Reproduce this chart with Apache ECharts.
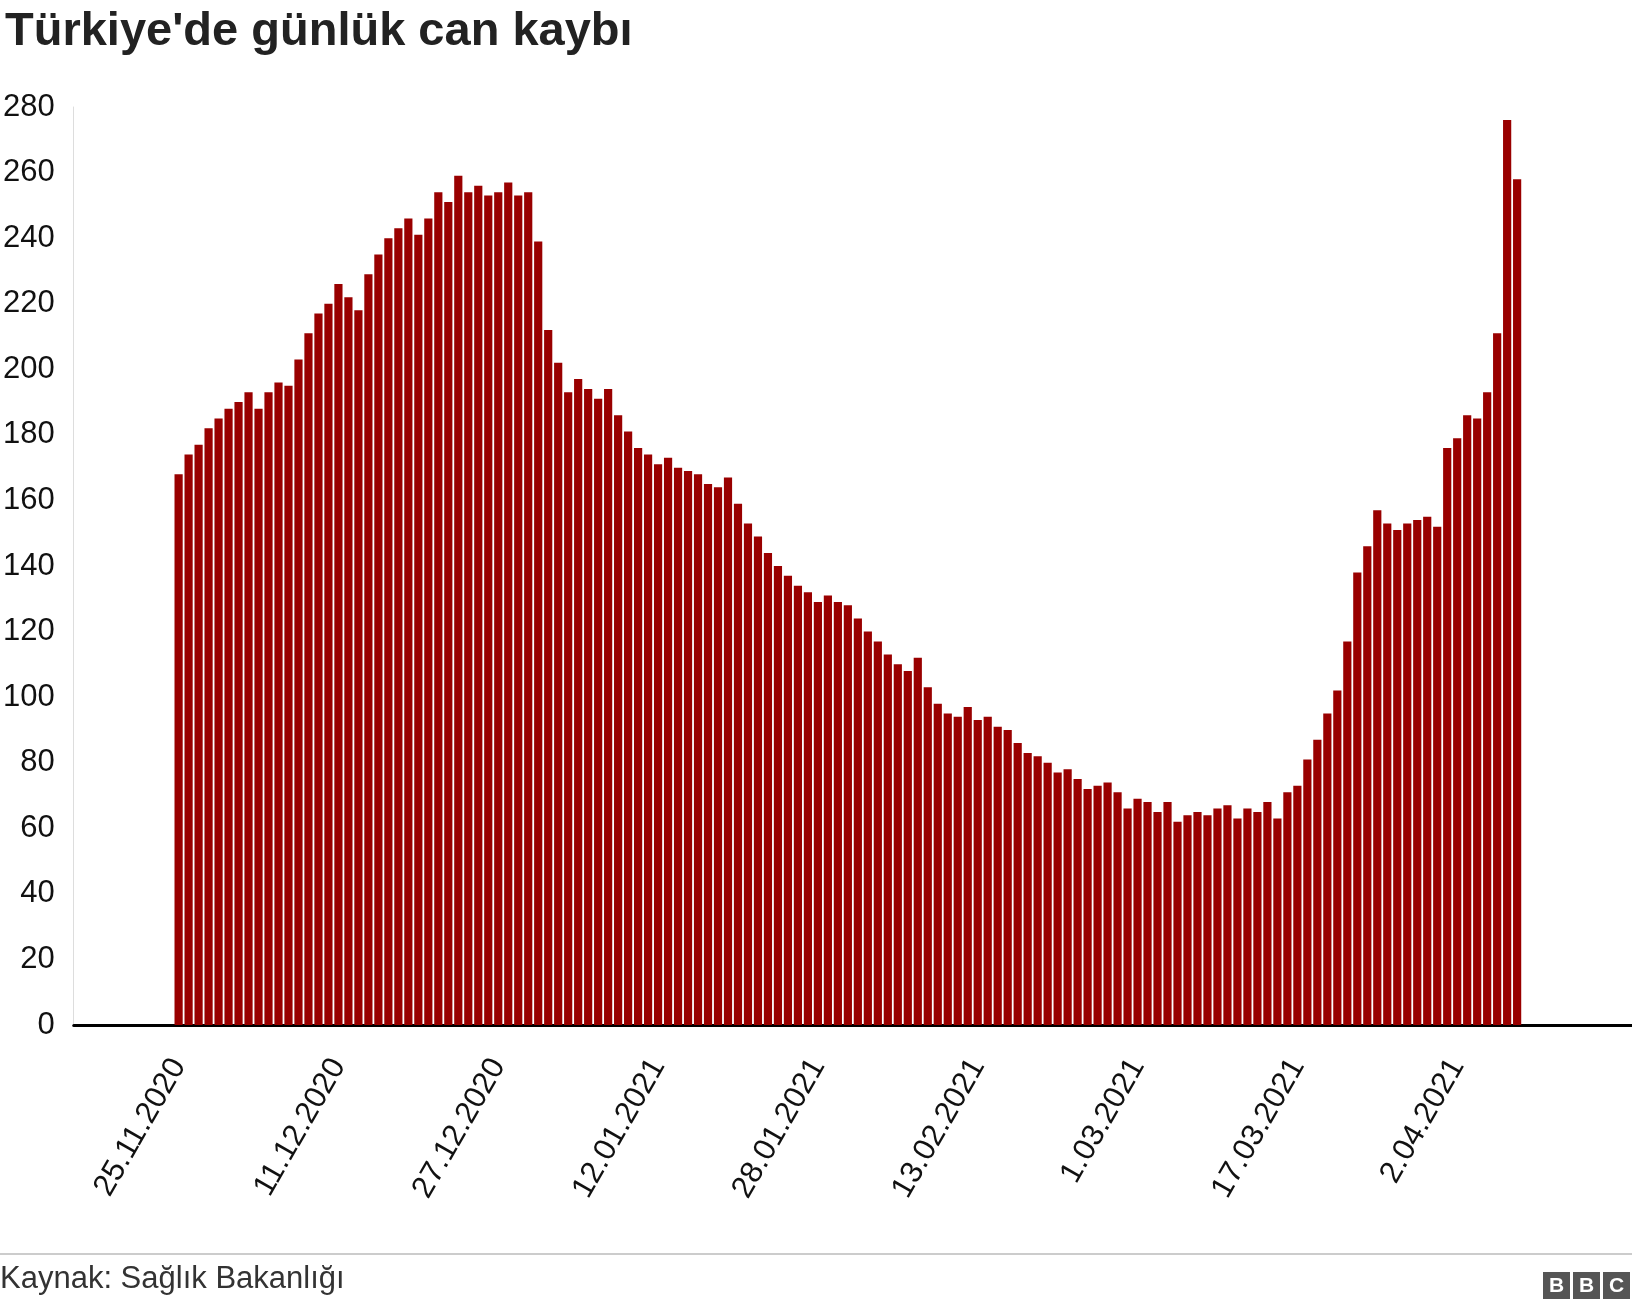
<!DOCTYPE html><html><head><meta charset="utf-8"><script src="https://cdn.jsdelivr.net/npm/echarts@6/dist/echarts.min.js"></script>
<style>body{margin:0;background:#fff}#c{width:1632px;height:1308px}</style></head><body><div id="c"></div><script>
const startDate = [2020, 10, 25];
const values = [168,174,177,182,185,188,190,193,188,193,
196,195,203,211,217,220,226,222,218,229,
235,240,243,246,241,246,254,251,259,254,
256,253,254,257,253,254,239,212,202,193,
197,194,191,194,186,181,176,174,171,173,
170,169,168,165,164,167,159,153,149,144,
140,137,134,132,129,131,129,128,124,120,
117,113,110,108,112,103,98,95,94,97,
93,94,91,90,86,83,82,80,77,78,
75,72,73,74,71,66,69,68,65,68,
62,64,65,64,66,67,63,66,65,68,
63,71,73,81,87,95,102,117,138,146,
157,153,151,153,154,155,152,176,179,186,
185,193,211,276,258];
const padLeft = 10, padRight = 11;
const cats = [], data = [];
for (let i = -padLeft; i < values.length + padRight; i++) {
  const d = new Date(Date.UTC(startDate[0], startDate[1], startDate[2] + i));
  cats.push(d.getUTCDate() + '.' + String(d.getUTCMonth()+1).padStart(2,'0') + '.' + d.getUTCFullYear());
  data.push(i >= 0 && i < values.length ? values[i] : null);
}
const ch = echarts.init(document.getElementById('c'));
ch.setOption({
  animation:false,
  title:{text:"Türkiye'de günlük can kaybı",left:0,top:4,textStyle:{fontFamily:'Liberation Sans',fontSize:47,fontWeight:'bold',color:'#222'}},
  grid:{left:73,right:0,top:107,bottom:283},
  xAxis:{type:'category',data:cats,boundaryGap:true,
    axisLine:{lineStyle:{color:'#000',width:3}},axisTick:{show:false},
    axisLabel:{interval:(i)=>i>=padLeft && i<padLeft+values.length && (i-padLeft)%16===0,rotate:60,margin:36,fontSize:31,fontFamily:'Liberation Sans',color:'#111'}},
  yAxis:{type:'value',min:0,max:280,interval:20,
    axisLine:{show:true,lineStyle:{color:'#ddd',width:1}},splitLine:{show:false},
    axisLabel:{margin:19,fontSize:31,fontFamily:'Liberation Sans',color:'#111'}},
  series:[{type:'bar',data:data,barCategoryGap:'18%',itemStyle:{color:'#990000'}}],
  graphic:[
    {type:'line',shape:{x1:0,y1:1254,x2:1632,y2:1254},style:{stroke:'#999',lineWidth:1}},
    {type:'text',left:0,top:1264,style:{text:'Kaynak: Sağlık Bakanlığı',fontSize:31,fontFamily:'Liberation Sans',fill:'#333'}},
    {type:'group',left:1543,top:1272,children:[
      {type:'rect',shape:{x:0,y:0,width:27,height:27},style:{fill:'#555'}},
      {type:'text',style:{text:'B',x:13.5,y:14,align:'center',verticalAlign:'middle',fontSize:21,fontWeight:'bold',fill:'#fff',fontFamily:'Liberation Sans'}},
      {type:'rect',shape:{x:30,y:0,width:27,height:27},style:{fill:'#555'}},
      {type:'text',style:{text:'B',x:43.5,y:14,align:'center',verticalAlign:'middle',fontSize:21,fontWeight:'bold',fill:'#fff',fontFamily:'Liberation Sans'}},
      {type:'rect',shape:{x:60,y:0,width:27,height:27},style:{fill:'#555'}},
      {type:'text',style:{text:'C',x:73.5,y:14,align:'center',verticalAlign:'middle',fontSize:21,fontWeight:'bold',fill:'#fff',fontFamily:'Liberation Sans'}}
    ]}
  ]
});
</script></body></html>
